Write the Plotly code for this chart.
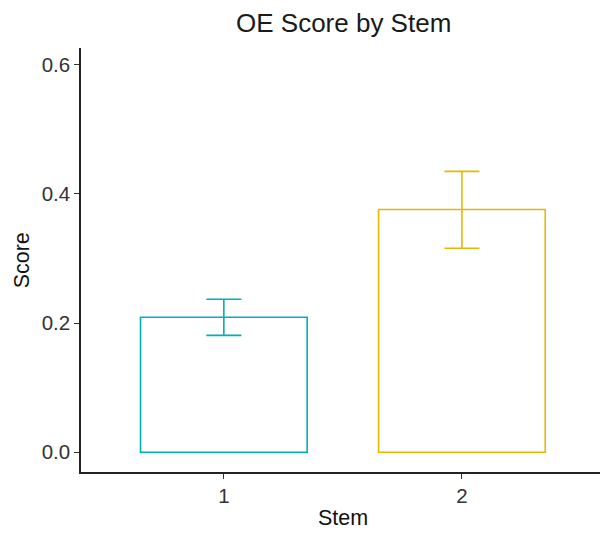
import plotly.graph_objects as go

categories = ["1", "2"]
scores = [0.209, 0.376]
err_upper = [0.028, 0.059]
err_lower = [0.028, 0.060]
colors = ["#00AFBB", "#E7B800"]
y_ticks = [0.0, 0.2, 0.4, 0.6]
y_tick_labels = ["0.0", "0.2", "0.4", "0.6"]

fig = go.Figure()
for i, c in enumerate(categories):
    fig.add_trace(go.Bar(
        x=[i + 1], y=[scores[i]], width=0.7,
        marker=dict(color="white", line=dict(color=colors[i], width=1.6)),
        error_y=dict(type="data", symmetric=False, array=[err_upper[i]],
                     arrayminus=[err_lower[i]], color=colors[i],
                     thickness=1.6, width=17.5),
        showlegend=False,
    ))

font = "Liberation Sans, Arial, sans-serif"
fig.update_layout(
    width=600, height=533,
    margin=dict(l=81, r=0, t=48, b=61, autoexpand=False),
    paper_bgcolor="white", plot_bgcolor="white",
    font=dict(family=font, color="#1a1a1a"),
    xaxis=dict(range=[0.4, 2.58], tickvals=[1, 2], ticktext=categories,
               showline=True, linecolor="#222", linewidth=1.5,
               ticks="outside", ticklen=5, tickcolor="#333", tickwidth=1.3,
               showgrid=False, zeroline=False, automargin=False,
               tickfont=dict(size=20.5, color="#333")),
    yaxis=dict(range=[-0.0305, 0.626], tickvals=y_ticks, ticktext=y_tick_labels,
               showline=True, linecolor="#222", linewidth=1.5,
               ticks="outside", ticklen=5, tickcolor="#333", tickwidth=1.3,
               showgrid=False, zeroline=False, automargin=False,
               tickfont=dict(size=20.5, color="#333")),
    annotations=[
        dict(text="OE Score by Stem", xref="paper", yref="paper", x=0.505, y=1.0,
             yshift=25, xanchor="center", yanchor="middle", showarrow=False,
             font=dict(size=26, color="#1a1a1a")),
        dict(text="Stem", xref="paper", yref="paper", x=0.505, y=0, yshift=-46,
             xanchor="center", yanchor="middle", showarrow=False,
             font=dict(size=21.5, color="#111")),
        dict(text="Score", xref="paper", yref="paper", x=0, y=0.498, xshift=-59.5,
             xanchor="center", yanchor="middle", textangle=-90, showarrow=False,
             font=dict(size=21.5, color="#111")),
    ],
)
fig.write_html("out.html", config={"displayModeBar": False},
               post_script="document.body.style.margin='0';document.body.style.overflow='hidden';")
